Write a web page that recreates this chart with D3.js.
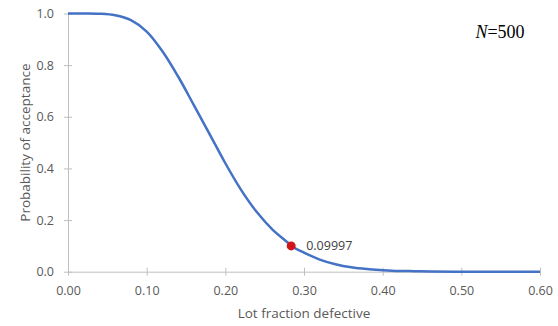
<!DOCTYPE html>
<html>
<head>
<meta charset="utf-8">
<script src="https://cdn.jsdelivr.net/npm/d3@7"></script>
<style>
    body { margin: 0; background: #fff; }
    text { font-family: "Open Sans", "Noto Sans", sans-serif; fill: #595959; }
</style>
</head>
<body>
<svg id="drawing_region"></svg>
<script>
// values
const fraction = [0, 0.02, 0.04, 0.06, 0.08, 0.10, 0.12, 0.14, 0.16, 0.18, 0.20, 0.22, 0.24, 0.26, 0.28, 0.2837, 0.30, 0.32, 0.34, 0.36, 0.38, 0.40, 0.42, 0.44, 0.46, 0.50, 0.55, 0.60];
const accept   = [1.000, 1.000, 0.999, 0.993, 0.974, 0.930, 0.854, 0.756, 0.645, 0.533, 0.420, 0.317, 0.231, 0.163, 0.111, 0.09997, 0.074, 0.047, 0.029, 0.017, 0.010, 0.006, 0.003, 0.002, 0.001, 0.000, 0.000, 0.000];
const marker = { x: 0.2837, y: 0.09997, label: "0.09997" };
const xTicks = [0, 0.1, 0.2, 0.3, 0.4, 0.5, 0.6];
const yTicks = [0, 0.2, 0.4, 0.6, 0.8, 1.0];

const width = 558, height = 326;
const margin = { top: 13.5, right: 18, bottom: 54.3, left: 68 };
const innerW = width - margin.left - margin.right;
const innerH = height - margin.top - margin.bottom;

const svg = d3.select('#drawing_region')
    .attr('width', width)
    .attr('height', height);

const chart = svg.append('g')
    .attr('transform', `translate(${margin.left}, ${margin.top})`);

const xscale = d3.scaleLinear().domain([0, 0.6]).range([0, innerW]);
const yscale = d3.scaleLinear().domain([0, 1]).range([innerH, 0]);

// x axis
const xaxis_group = chart.append('g')
    .attr('transform', `translate(0, ${innerH})`)
    .call(d3.axisBottom(xscale).tickValues(xTicks).tickFormat(d3.format('.2f')).tickSizeOuter(0));
xaxis_group.select('.domain').attr('stroke', '#bfbfbf');
xaxis_group.selectAll('.tick line').attr('stroke', '#bfbfbf').attr('y1', -4).attr('y2', 4);
xaxis_group.selectAll('.tick text').attr('y', 19).attr('dy', '0.32em')
    .style('font-size', '12.5px').style('fill', '#595959');

// y axis
const yaxis_group = chart.append('g')
    .call(d3.axisLeft(yscale).tickValues(yTicks).tickFormat(d3.format('.1f')).tickSizeOuter(0));
yaxis_group.select('.domain').attr('stroke', '#bfbfbf');
yaxis_group.selectAll('.tick line').attr('stroke', '#bfbfbf').attr('x1', -4).attr('x2', 4);
yaxis_group.selectAll('.tick text').attr('x', -14)
    .style('font-size', '12.5px').style('fill', '#595959');
yaxis_group.attr('font-family', null);
xaxis_group.attr('font-family', null);

// curve
const line = d3.line()
    .x((d, i) => xscale(fraction[i]))
    .y(d => yscale(d))
    .curve(d3.curveCatmullRom.alpha(0.5));

chart.append('path')
    .attr('d', line(accept))
    .attr('fill', 'none')
    .attr('stroke', '#4472c4')
    .attr('stroke-width', 2.5);

// highlighted point
chart.append('circle')
    .attr('cx', xscale(marker.x))
    .attr('cy', yscale(marker.y))
    .attr('r', 4.5)
    .attr('fill', '#d0161b');

chart.append('text')
    .attr('x', xscale(marker.x) + 15)
    .attr('y', yscale(marker.y))
    .attr('dy', '0.35em')
    .style('font-size', '12.5px')
    .style('fill', '#404040')
    .text(marker.label);

// axis titles
svg.append('text')
    .attr('x', margin.left + innerW / 2)
    .attr('y', 313)
    .attr('dy', '0.35em')
    .attr('text-anchor', 'middle')
    .style('font-size', '13.5px')
    .text('Lot fraction defective');

svg.append('text')
    .attr('transform', `translate(25, ${margin.top + innerH / 2}) rotate(-90)`)
    .attr('dy', '0.35em')
    .attr('text-anchor', 'middle')
    .style('font-size', '13.5px')
    .text('Probability of acceptance');

// N label
const nlabel = svg.append('text')
    .attr('x', 500)
    .attr('y', 38)
    .attr('text-anchor', 'middle')
    .style('font-family', '"Liberation Serif", serif')
    .style('font-size', '18px')
    .style('fill', '#000');
nlabel.append('tspan').style('font-style', 'italic').text('N');
nlabel.append('tspan').text('=500');
</script>
</body>
</html>
